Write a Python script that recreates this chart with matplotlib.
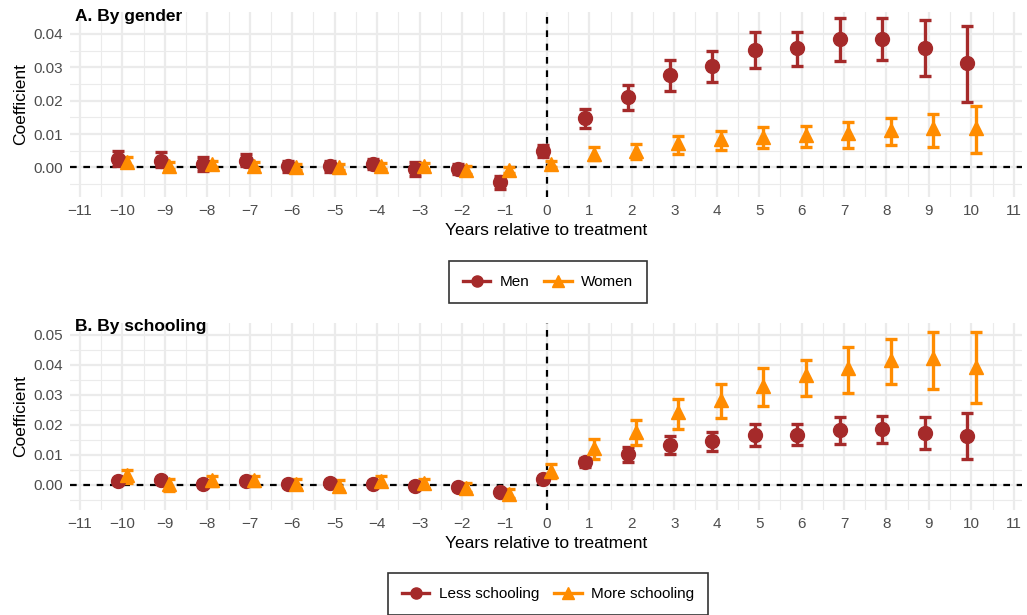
import numpy as np
import matplotlib
matplotlib.use("Agg")
import matplotlib.pyplot as plt
from matplotlib.lines import Line2D

plt.rcParams['font.family'] = ['Liberation Sans', 'DejaVu Sans']

years = np.arange(-10, 11)

# panel A: by gender (estimate, lower CI, upper CI)
men = [0.0025, 0.002, 0.001, 0.002, 0.0003, 0.0003, 0.001, -0.0005, -0.0005, -0.0045,
       0.005, 0.0148, 0.0211, 0.0276, 0.0304, 0.0352, 0.0357, 0.0384, 0.0384, 0.0359, 0.0313]
men_lo = [0.0005, 0.0, -0.001, 0.0005, -0.0015, -0.0015, -0.0005, -0.0025, -0.002, -0.0065,
          0.003, 0.0118, 0.0173, 0.023, 0.0257, 0.0297, 0.0303, 0.0318, 0.0321, 0.0273, 0.0197]
men_hi = [0.005, 0.0045, 0.003, 0.004, 0.002, 0.002, 0.0025, 0.0015, 0.001, -0.0025,
          0.0068, 0.0176, 0.0248, 0.0321, 0.0348, 0.0405, 0.0406, 0.0448, 0.0448, 0.0442, 0.0425]
women = [0.0015, 0.0003, 0.001, 0.0005, 0.0002, 0.0002, 0.0005, 0.0005, -0.0008, -0.0008,
         0.001, 0.0039, 0.005, 0.0072, 0.0084, 0.0092, 0.0097, 0.0102, 0.0112, 0.0117, 0.0117]
women_lo = [0.0005, -0.0005, 0.0, -0.0003, -0.0007, -0.0007, -0.0004, -0.0004, -0.002, -0.0018,
            0.0, 0.0023, 0.0025, 0.0039, 0.0051, 0.0058, 0.0062, 0.0059, 0.0068, 0.006, 0.0043]
women_hi = [0.003, 0.0015, 0.002, 0.0015, 0.0011, 0.0011, 0.0014, 0.0014, 0.0003, 0.0002,
            0.002, 0.006, 0.007, 0.0095, 0.0108, 0.0122, 0.0123, 0.0135, 0.0147, 0.0161, 0.0183]

# panel B: by schooling
less = [0.0012, 0.0015, 0.0003, 0.0012, 0.0003, 0.0006, 0.0004, -0.0002, -0.0008, -0.0022,
        0.0019, 0.0076, 0.0103, 0.0134, 0.0147, 0.0168, 0.0168, 0.0182, 0.0186, 0.0172, 0.0164]
less_lo = [0.0003, 0.0006, -0.0006, 0.0003, -0.0006, -0.0003, -0.0005, -0.0011, -0.0017, -0.0031,
           0.001, 0.0061, 0.0078, 0.0103, 0.0112, 0.013, 0.0133, 0.0136, 0.0139, 0.0119, 0.0088]
less_hi = [0.0021, 0.0024, 0.0012, 0.0021, 0.0012, 0.0015, 0.0013, 0.0007, 0.0001, -0.0013,
           0.0028, 0.0089, 0.0128, 0.0163, 0.0177, 0.0203, 0.0203, 0.0226, 0.023, 0.0226, 0.0239]
more = [0.0033, 0.0003, 0.0015, 0.0015, 0.0002, -0.0003, 0.0012, 0.0005, -0.001, -0.003,
        0.0048, 0.0124, 0.0178, 0.0244, 0.0283, 0.033, 0.0367, 0.0389, 0.0417, 0.0422, 0.0394]
more_lo = [0.0008, -0.002, -0.0003, -0.0003, -0.0015, -0.002, -0.0005, -0.001, -0.0025, -0.0045,
           0.0024, 0.0088, 0.0134, 0.0188, 0.0222, 0.0264, 0.0297, 0.0307, 0.0336, 0.0321, 0.0274]
more_hi = [0.005, 0.002, 0.003, 0.003, 0.002, 0.0015, 0.003, 0.002, 0.0005, -0.0015,
           0.0069, 0.0152, 0.0217, 0.0286, 0.0337, 0.0389, 0.0417, 0.0458, 0.0486, 0.0511, 0.0509]

c1 = '#A52A2A'
c2 = '#FF8C00'
grid_col = '#EBEBEB'
tick_col = '#4D4D4D'


def draw_series(ax, est, lo, hi, shift, color, marker):
    est = np.array(est)
    err = [est - np.array(lo), np.array(hi) - est]
    ax.errorbar(years + shift, est, yerr=err, fmt=marker, color=color, ecolor=color,
                elinewidth=2.4, capsize=4, capthick=2.4, markersize=10, zorder=3)


def style_axes(ax, ylim, yticks, yminor):
    ax.set_xlim(-11.24, 11.19)
    ax.set_ylim(*ylim)
    ax.set_xticks(np.arange(-11, 12))
    ax.set_xticks(np.arange(-10.5, 11), minor=True)
    ax.set_yticks(yticks)
    ax.set_yticks(yminor, minor=True)
    ax.set_yticklabels([f'{v:.2f}' for v in yticks])
    ax.grid(which='major', color=grid_col, lw=1.6, zorder=0)
    ax.grid(which='minor', color=grid_col, lw=0.8, zorder=0)
    ax.tick_params(which='both', length=0, labelsize=11, colors=tick_col, pad=5)
    for s in ax.spines.values():
        s.set_visible(False)
    ax.axhline(0, color='black', ls=(0, (3, 3)), lw=1.6, zorder=2)
    ax.axvline(0, color='black', ls=(0, (3, 3)), lw=1.6, zorder=2)
    ax.set_xlabel('Years relative to treatment', fontsize=12.5, labelpad=4)
    ax.set_ylabel('Coefficient', fontsize=12.5, labelpad=4)


fig = plt.figure(figsize=(10.27, 6.15), dpi=100)
axA = fig.add_axes([0.068, 0.680, 0.927, 0.300])
axB = fig.add_axes([0.068, 0.171, 0.927, 0.304])

draw_series(axA, men, men_lo, men_hi, -0.1, c1, 'o')
draw_series(axA, women, women_lo, women_hi, 0.1, c2, '^')
style_axes(axA, (-0.0088, 0.0465), [0, 0.01, 0.02, 0.03, 0.04],
           [-0.005, 0.005, 0.015, 0.025, 0.035])

draw_series(axB, less, less_lo, less_hi, -0.1, c1, 'o')
draw_series(axB, more, more_lo, more_hi, 0.1, c2, '^')
style_axes(axB, (-0.0083, 0.054), [0, 0.01, 0.02, 0.03, 0.04, 0.05],
           [-0.005, 0.005, 0.015, 0.025, 0.035, 0.045])

fig.text(75 / 1027, 1 - 17 / 615, 'A. By gender', fontsize=12.5, fontweight='bold', va='center')
fig.text(75 / 1027, 1 - 327 / 615, 'B. By schooling', fontsize=12.5, fontweight='bold', va='center')


def legend_handles(labels):
    h1 = Line2D([], [], color=c1, marker='o', lw=2.4, markersize=8)
    h2 = Line2D([], [], color=c2, marker='^', lw=2.4, markersize=8)
    return [h1, h2], labels


for labels, ypos in [(['Men', 'Women'], 1 - 282 / 615),
                     (['Less schooling', 'More schooling'], 1 - 594 / 615)]:
    hs, ls = legend_handles(labels)
    leg = fig.legend(hs, ls, loc='center', bbox_to_anchor=(548 / 1027, ypos), ncol=2,
                     frameon=True, fancybox=False, fontsize=11, handlelength=1.8,
                     columnspacing=1.0, handletextpad=0.6, borderpad=0.9)
    leg.get_frame().set_edgecolor('black')
    leg.get_frame().set_linewidth(1.2)

fig.savefig('out.png', dpi=100, facecolor='white')
